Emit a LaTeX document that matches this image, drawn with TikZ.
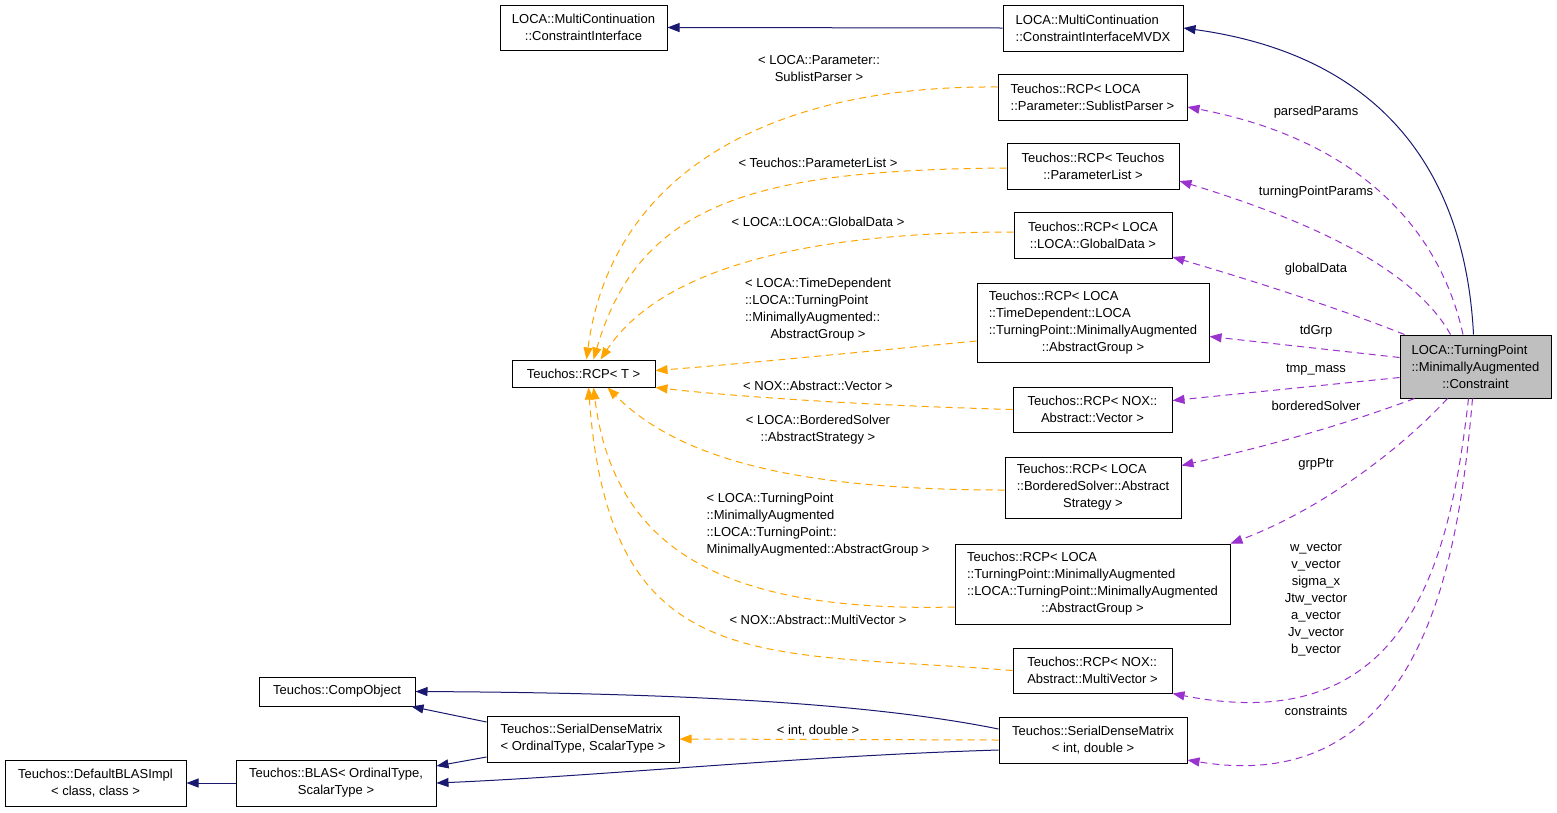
\documentclass[tikz,border=0pt]{standalone}
\usepackage{fontspec}
\setmainfont{Liberation Sans}
\usetikzlibrary{arrows.meta,calc}
\definecolor{navy}{HTML}{191970}
\definecolor{tmplorange}{HTML}{FFA500}
\definecolor{usepurple}{HTML}{9A32CD}
\definecolor{mainfill}{HTML}{BFBFBF}
\newcommand{\lastln}[1]{\hspace*{\fill}#1\hspace*{\fill}}

\begin{document}
\begin{tikzpicture}[x=1pt, y=-1pt,
		font=\fontsize{13}{17}\selectfont,
		cls/.style={draw=black, fill=white, line width=1pt, align=left, inner xsep=4pt, inner ysep=5pt},
		lbl/.style={inner sep=0pt, align=left},
		inh/.style={draw=navy, line width=1pt, -{Triangle[length=12pt, width=9pt]}},
		tmpl/.style={draw=tmplorange, line width=1pt, dash pattern=on 7pt off 5pt, -{Triangle[length=12pt, width=9pt]}},
		usage/.style={draw=usepurple, line width=1pt, dash pattern=on 7pt off 5pt, -{Triangle[length=12pt, width=9pt]}}]
		\fill[white] (0,0) rectangle (1557,812);
		\useasboundingbox (0,0) rectangle (1557,812);

		\node[cls, minimum width=167pt, minimum height=45pt] (ci) at (583.5,27.5) {LOCA::MultiContinuation\\\lastln{::ConstraintInterface}};
		\node[cls, minimum width=180pt, minimum height=46pt] (cimvdx) at (1093,28) {LOCA::MultiContinuation\\\lastln{::ConstraintInterfaceMVDX}};
		\node[cls, minimum width=189pt, minimum height=46pt] (rcpsub) at (1092.5,97) {Teuchos::RCP< LOCA\\\lastln{::Parameter::SublistParser >}};
		\node[cls, minimum width=172pt, minimum height=46pt] (rcppl) at (1093,166) {Teuchos::RCP< Teuchos\\\lastln{::ParameterList >}};
		\node[cls, minimum width=158pt, minimum height=46pt] (rcpgd) at (1093,235) {Teuchos::RCP< LOCA\\\lastln{::LOCA::GlobalData >}};
		\node[cls, minimum width=232pt, minimum height=79pt] (rcptd) at (1093,322.5) {Teuchos::RCP< LOCA\\::TimeDependent::LOCA\\::TurningPoint::MinimallyAugmented\\\lastln{::AbstractGroup >}};
		\node[cls, minimum width=159pt, minimum height=45pt] (rcpv) at (1092.5,409.5) {Teuchos::RCP< NOX::\\\lastln{Abstract::Vector >}};
		\node[cls, minimum width=176pt, minimum height=61pt] (rcpbs) at (1093,487.5) {Teuchos::RCP< LOCA\\::BorderedSolver::Abstract\\\lastln{Strategy >}};
		\node[cls, minimum width=275pt, minimum height=80pt] (rcpma) at (1092.5,584) {Teuchos::RCP< LOCA\\::TurningPoint::MinimallyAugmented\\::LOCA::TurningPoint::MinimallyAugmented\\\lastln{::AbstractGroup >}};
		\node[cls, minimum width=159pt, minimum height=45pt] (rcpmv) at (1092.5,670.5) {Teuchos::RCP< NOX::\\\lastln{Abstract::MultiVector >}};
		\node[cls, minimum width=188pt, minimum height=46pt] (sdmint) at (1093,740) {Teuchos::SerialDenseMatrix\\\lastln{< int, double >}};
		\node[cls, fill=mainfill, minimum width=151pt, minimum height=63pt] (tpc) at (1475.5,366.5) {LOCA::TurningPoint\\::MinimallyAugmented\\\lastln{::Constraint}};
		\node[cls, minimum width=143pt, minimum height=27pt] (rcpt) at (583.5,373.5) {Teuchos::RCP< T >};
		\node[cls, minimum width=156pt, minimum height=29pt] (compobj) at (337,691.5) {Teuchos::CompObject};
		\node[cls, minimum width=192pt, minimum height=46pt] (sdm) at (583,739) {Teuchos::SerialDenseMatrix\\\lastln{< OrdinalType, ScalarType >}};
		\node[cls, minimum width=200pt, minimum height=46pt] (blas) at (336,783) {Teuchos::BLAS< OrdinalType,\\\lastln{ScalarType >}};
		\node[cls, minimum width=181pt, minimum height=46pt] (defblas) at (95.5,783) {Teuchos::DefaultBLASImpl\\\lastln{< class, class >}};

		\draw[inh] (cimvdx.west) -- (ci.east);
		\draw[inh] ($(tpc.north)+(-2,0)$) .. controls (1465,170) and (1380,55) .. (cimvdx.east);
		\draw[inh] ($(sdm.west)+(0,-17)$) -- ($(compobj.south east)+(-4,0)$);
		\draw[inh] ($(sdm.west)+(0,18)$) -- ($(blas.east)+(0,-17)$);
		\draw[inh] ($(sdmint.west)+(0,-11)$) .. controls (880,705) and (700,693) .. (compobj.east);
		\draw[inh] ($(sdmint.west)+(0,10)$) .. controls (800,756) and (600,776) .. (blas.east);
		\draw[inh] (blas.west) -- (defblas.east);

		\draw[tmpl] ($(rcpsub.west)+(0,-10)$) .. controls (760,85) and (610,180) .. ($(rcpt.north)+(3,0)$);
		\draw[tmpl] ($(rcppl.west)+(0,2)$) .. controls (760,170) and (640,200) .. ($(rcpt.north)+(10,0)$);
		\draw[tmpl] ($(rcpgd.west)+(0,-3)$) .. controls (800,232) and (660,270) .. ($(rcpt.north)+(17,0)$);
		\draw[tmpl] ($(rcptd.west)+(0,18.5)$) .. controls (860,352) and (740,364) .. ($(rcpt.east)+(0,-3)$);
		\draw[tmpl] (rcpv.west) .. controls (850,405) and (720,395) .. (rcpt.south east);
		\draw[tmpl] ($(rcpbs.west)+(0,2.5)$) .. controls (800,490) and (680,460) .. ($(rcpt.south)+(24,0)$);
		\draw[tmpl] ($(rcpma.west)+(0,23)$) .. controls (740,612) and (615,560) .. ($(rcpt.south)+(10,0)$);
		\draw[tmpl] (rcpmv.west) .. controls (760,650) and (610,680) .. ($(rcpt.south)+(5,0)$);
		\draw[tmpl] (sdmint.west) -- (sdm.east);

		\node[lbl] (lsub) at (819,69) {< LOCA::Parameter::\\\lastln{SublistParser >}};
		\node[lbl] (lpl) at (818,163) {< Teuchos::ParameterList >};
		\node[lbl] (lgd) at (818,222) {< LOCA::LOCA::GlobalData >};
		\node[lbl] (ltd) at (818,310) {< LOCA::TimeDependent\\::LOCA::TurningPoint\\::MinimallyAugmented::\\\lastln{AbstractGroup >}};
		\node[lbl] (lv) at (818,386) {< NOX::Abstract::Vector >};
		\node[lbl] (lbs) at (818,430) {< LOCA::BorderedSolver\\\lastln{::AbstractStrategy >}};
		\node[lbl] (lma) at (818,525) {< LOCA::TurningPoint\\::MinimallyAugmented\\::LOCA::TurningPoint::\\\lastln{MinimallyAugmented::AbstractGroup >}};
		\node[lbl] (lmv) at (818,620) {< NOX::Abstract::MultiVector >};
		\node[lbl] (lint) at (818,731) {< int, double >};

		\draw[usage] ($(tpc.north)+(-12.5,0)$) .. controls (1440,230) and (1360,140) .. ($(rcpsub.east)+(0,10)$);
		\draw[usage] ($(tpc.north)+(-25,0)$) .. controls (1420,280) and (1340,230) .. ($(rcppl.east)+(0,15)$);
		\draw[usage] ($(tpc.north west)+(5,0)$) .. controls (1330,305) and (1250,280) .. ($(rcpgd.east)+(0,22)$);
		\draw[usage] ($(tpc.west)+(0,-9)$) -- ($(rcptd.east)+(0,14)$);
		\draw[usage] ($(tpc.west)+(0,11)$) -- ($(rcpv.east)+(0,-9)$);
		\draw[usage] ($(tpc.south west)+(15,0)$) .. controls (1330,430) and (1250,450) .. ($(rcpbs.east)+(0,-22)$);
		\draw[usage] ($(tpc.south)+(-28,0)$) .. controls (1400,450) and (1320,510) .. (rcpma.north east);
		\draw[usage] ($(tpc.south)+(-7,0)$) .. controls (1450,560) and (1410,740) .. (rcpmv.south east);
		\draw[usage] ($(tpc.south)+(-3,0)$) .. controls (1460,540) and (1430,800) .. ($(sdmint.east)+(0,20)$);

		\node[lbl] (pparsed) at (1316,112) {parsedParams};
		\node[lbl] (ptpp) at (1316,192) {turningPointParams};
		\node[lbl] (pgd) at (1316,269) {globalData};
		\node[lbl] (ptd) at (1316,331) {tdGrp};
		\node[lbl] (ptmp) at (1316,370) {tmp\_mass};
		\node[lbl] (pbs) at (1316,406) {borderedSolver};
		\node[lbl] (pgrp) at (1316,464) {grpPtr};
		\node[lbl, align=center] (pvec) at (1316,600) {w\_vector\\v\_vector\\sigma\_x\\Jtw\_vector\\a\_vector\\Jv\_vector\\b\_vector};
		\node[lbl] (pcons) at (1316,711) {constraints};
	\end{tikzpicture}
\end{document}
